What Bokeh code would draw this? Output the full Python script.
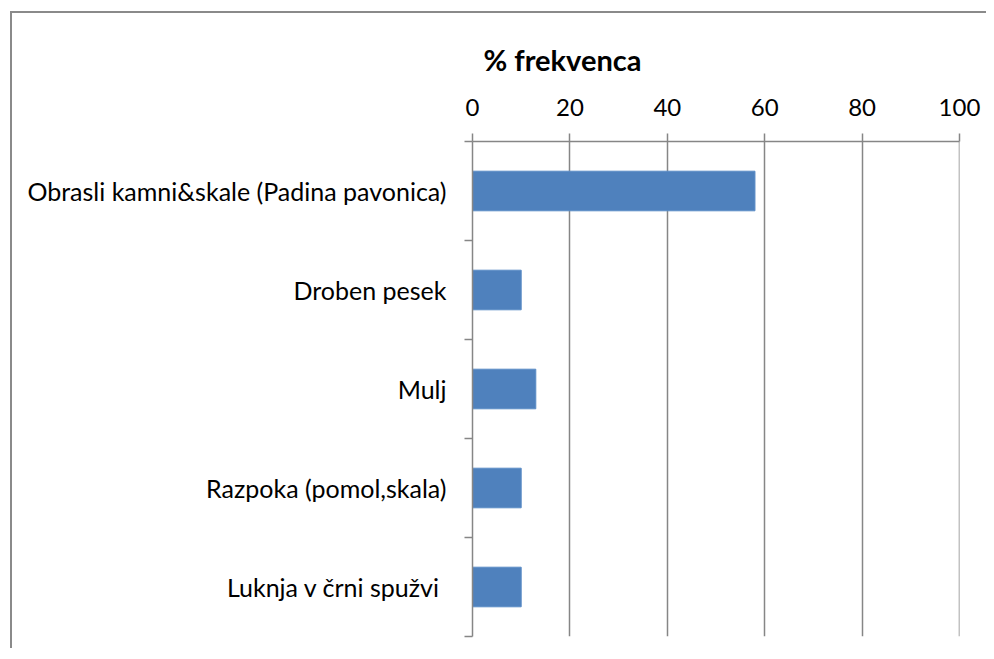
from bokeh.plotting import figure
from bokeh.models import Range1d, FixedTicker, Title, Span
from bokeh.embed import file_html
from bokeh.resources import INLINE

categories = ["Obrasli kamni&skale (Padina pavonica)", "Droben pesek", "Mulj",
              "Razpoka (pomol,skala)", "Luknja v črni spužvi "]
values = [58, 10, 13, 10, 10]
x_ticks = [0, 20, 40, 60, 80, 100]
title_text = "% frekvenca"

n = len(categories)
ypos = [n - i - 0.5 for i in range(n)]
FONT = "Lato"
GREY = "#868686"

p = figure(width=976, height=637, output_backend="svg", toolbar_location=None,
           x_range=Range1d(x_ticks[0], x_ticks[-1]), y_range=Range1d(0, n), x_axis_location="above",
           min_border_left=460, min_border_top=128, min_border_right=29, min_border_bottom=14)
p.styles = {"border-left": "2px solid #8a8a8a", "border-top": "2px solid #8a8a8a",
            "margin-top": "11px", "margin-left": "10px"}
p.outline_line_color = None

p.hbar(y=ypos, right=values, left=0, height=0.4, fill_color="#4F81BD", line_color="#5a8cc6", line_width=1)

xa = p.xaxis[0]
xa.ticker = FixedTicker(ticks=x_ticks)
xa.axis_line_color = GREY
xa.axis_line_width = 1.5
xa.major_tick_line_color = GREY
xa.major_tick_line_width = 1.5
xa.major_tick_out = 8
xa.major_tick_in = 0
xa.minor_tick_line_color = None
xa.major_label_text_font = FONT
xa.major_label_text_font_size = "24px"
xa.major_label_text_color = "black"
xa.major_label_standoff = 18

ya = p.yaxis[0]
ya.ticker = FixedTicker(ticks=ypos, minor_ticks=list(range(n + 1)))
ya.major_label_overrides = {y: c for y, c in zip(ypos, categories)}
ya.axis_line_color = GREY
ya.axis_line_width = 1.5
ya.major_tick_line_color = None
ya.minor_tick_line_color = GREY
ya.minor_tick_line_width = 1.5
ya.minor_tick_out = 8
ya.minor_tick_in = 0
ya.major_tick_out = 8
ya.major_label_text_font = FONT
ya.major_label_text_font_size = "25px"
ya.major_label_text_color = "black"
ya.major_label_standoff = 18

p.xgrid.grid_line_color = GREY
p.xgrid.grid_line_width = 1.5
p.ygrid.grid_line_color = None
p.add_layout(Span(location=x_ticks[-1], dimension="height", line_color=GREY, line_width=1.5))

p.title = Title(text=title_text, align="left", offset=11, standoff=37, text_font=FONT,
                text_font_size="29px", text_font_style="bold", text_color="black")

open("out.html", "w").write(file_html(p, INLINE))
